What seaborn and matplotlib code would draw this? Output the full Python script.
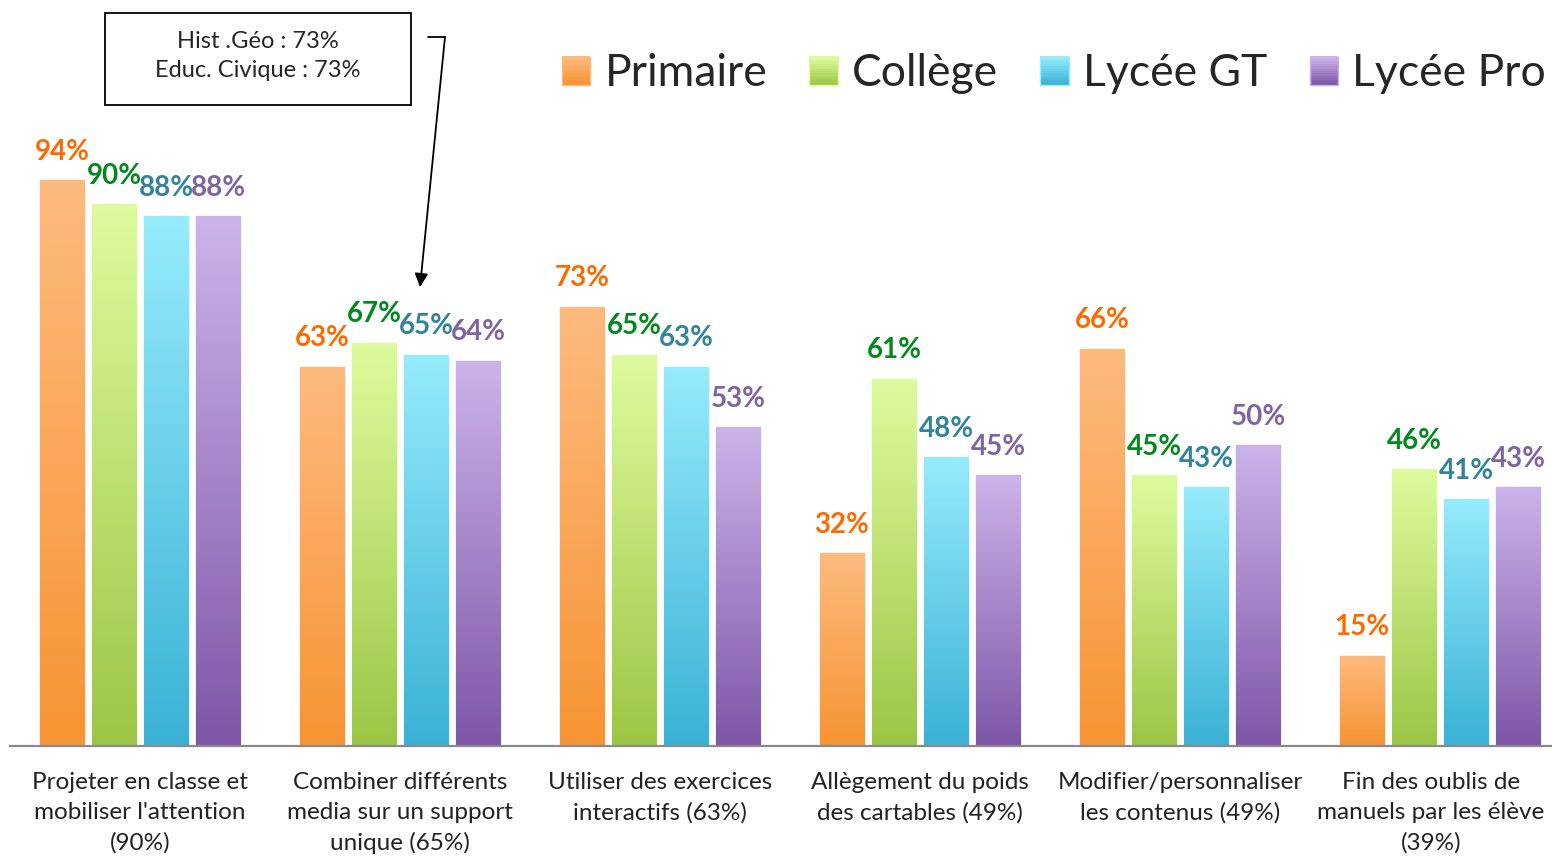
import matplotlib
matplotlib.use("Agg")
import matplotlib.pyplot as plt
import numpy as np
import pandas as pd
import seaborn as sns
from matplotlib.colors import LinearSegmentedColormap
from matplotlib.legend_handler import HandlerBase
from matplotlib.lines import Line2D
from matplotlib.patches import Patch, Rectangle
from matplotlib.transforms import ScaledTranslation

categories = [
    "Projeter en classe et\nmobiliser l'attention\n(90%)",
    "Combiner différents\nmedia sur un support\nunique (65%)",
    "Utiliser des exercices\ninteractifs (63%)",
    "Allègement du poids\ndes cartables (49%)",
    "Modifier/personnaliser\nles contenus (49%)",
    "Fin des oublis de\nmanuels par les élève\n(39%)",
]
series = ["Primaire", "Collège", "Lycée GT", "Lycée Pro"]
primaire = [94, 63, 73, 32, 66, 15]
college = [90, 67, 65, 61, 45, 46]
lycee_gt = [88, 65, 63, 48, 43, 41]
lycee_pro = [88, 64, 53, 45, 50, 43]
note_lines = ["Hist .Géo : 73%", "Educ. Civique : 73%"]

# top / bottom colours of the gradient bars, and colour of the value labels
grad_top = ["#FDBA7E", "#DDFB9E", "#96EBFC", "#CBB3EA"]
grad_bottom = ["#F79433", "#9DC646", "#3AB2D5", "#7E57A7"]
label_colors = ["#FF6A00", "#008A1E", "#31849B", "#8064A2"]

values = [primaire, college, lycee_gt, lycee_pro]
df = pd.DataFrame({
    "categorie": np.tile(categories, len(series)),
    "niveau": np.repeat(series, len(categories)),
    "valeur": np.concatenate(values),
})


class GradientHandler(HandlerBase):
    # legend square filled with the same vertical gradient as the bars
    def create_artists(self, legend, orig_handle, xdescent, ydescent,
                       width, height, fontsize, trans):
        cmap = orig_handle.cmap
        side = min(width, height)
        x0 = -xdescent + (width - side) / 2
        y0 = -ydescent + (height - side) / 2
        n = 12
        arts = []
        for k in range(n):
            arts.append(Rectangle((x0, y0 + side * k / n), side, side / n + 0.3,
                                  facecolor=cmap(k / (n - 1)), edgecolor="none",
                                  transform=trans))
        arts.append(Rectangle((x0, y0), side, side, facecolor="none",
                              edgecolor=orig_handle.get_edgecolor(), lw=1,
                              transform=trans))
        return arts


sns.set_style("white")
plt.rcParams["font.family"] = ["Lato", "DejaVu Sans"]

fig = plt.figure(figsize=(15.52, 8.57), dpi=100)
ax = fig.add_axes([10 / 1552, 111 / 857, 1560 / 1552, 0.7025])

sns.barplot(
    data=df, x="categorie", y="valeur", hue="niveau", hue_order=series,
    palette=grad_bottom, width=0.8, gap=0.15, saturation=1,
    legend=False, ax=ax,
)

cmaps = []
for i, cont in enumerate(ax.containers):
    cmap = LinearSegmentedColormap.from_list(series[i], [grad_bottom[i], grad_top[i]])
    cmaps.append(cmap)
    for bar in cont:
        x, w, h = bar.get_x(), bar.get_width(), bar.get_height()
        bar.set_facecolor("none")
        bar.set_edgecolor(grad_top[i])
        bar.set_linewidth(1.0)
        grad = np.linspace(0, 1, 100).reshape(-1, 1)
        im = ax.imshow(grad, cmap=cmap, origin="lower", aspect="auto",
                       extent=[x, x + w, 0, h], zorder=1.5)
        im.set_clip_path(bar)
    ax.bar_label(cont, labels=[f"{v}%" for v in values[i]], padding=11,
                 color=label_colors[i], fontsize=20, fontweight="bold")

ax.set_xlim(-0.5, 5.5)
ax.set_ylim(0, 100)
ax.set_xlabel("")
ax.set_ylabel("")
ax.set_yticks([])
ax.tick_params(axis="x", length=0, labelsize=17.5, pad=19, colors="#222222")
xlabels = ax.get_xticklabels()
for lab in xlabels:
    lab.set_linespacing(1.5)
# last label sits a little to the left so it stays inside the picture
xlabels[-1].set_transform(xlabels[-1].get_transform()
                          + ScaledTranslation(-0.09, 0, fig.dpi_scale_trans))
for s in ["top", "left", "right"]:
    ax.spines[s].set_visible(False)
ax.spines["bottom"].set_color("#8A8A8A")
ax.spines["bottom"].set_linewidth(1.6)

handles = []
for i in range(4):
    p = Patch(facecolor=grad_bottom[i], edgecolor=grad_top[i])
    p.cmap = cmaps[i]
    handles.append(p)
fig.legend(handles, series, loc="center right", bbox_to_anchor=(1546 / 1552, 1 - 74 / 857),
           ncol=4, frameon=False, fontsize=32, handlelength=0.64, handleheight=0.64,
           handletextpad=0.32, columnspacing=0.95, borderpad=0, borderaxespad=0,
           handler_map={Patch: GradientHandler()})

# note box with arrow
fig.add_artist(Rectangle((105 / 1552, 1 - 105 / 857), 306 / 1552, 92 / 857,
                         transform=fig.transFigure, facecolor="white",
                         edgecolor="black", linewidth=1.3))
fig.text(258 / 1552, 1 - 56 / 857, "\n".join(note_lines), ha="center", va="center",
         fontsize=17, linespacing=1.45)
fig.add_artist(Line2D([428 / 1552, 445 / 1552], [1 - 37 / 857, 1 - 37 / 857],
                      transform=fig.transFigure, color="black", lw=1.3))
ax.annotate("", xy=(420 / 1552, 1 - 287 / 857), xycoords="figure fraction",
            xytext=(445 / 1552, 1 - 37 / 857), textcoords="figure fraction",
            arrowprops=dict(arrowstyle="-|>", color="black", lw=1.3,
                            shrinkA=0, shrinkB=0, mutation_scale=20))

fig.savefig("out.png", dpi=100)
